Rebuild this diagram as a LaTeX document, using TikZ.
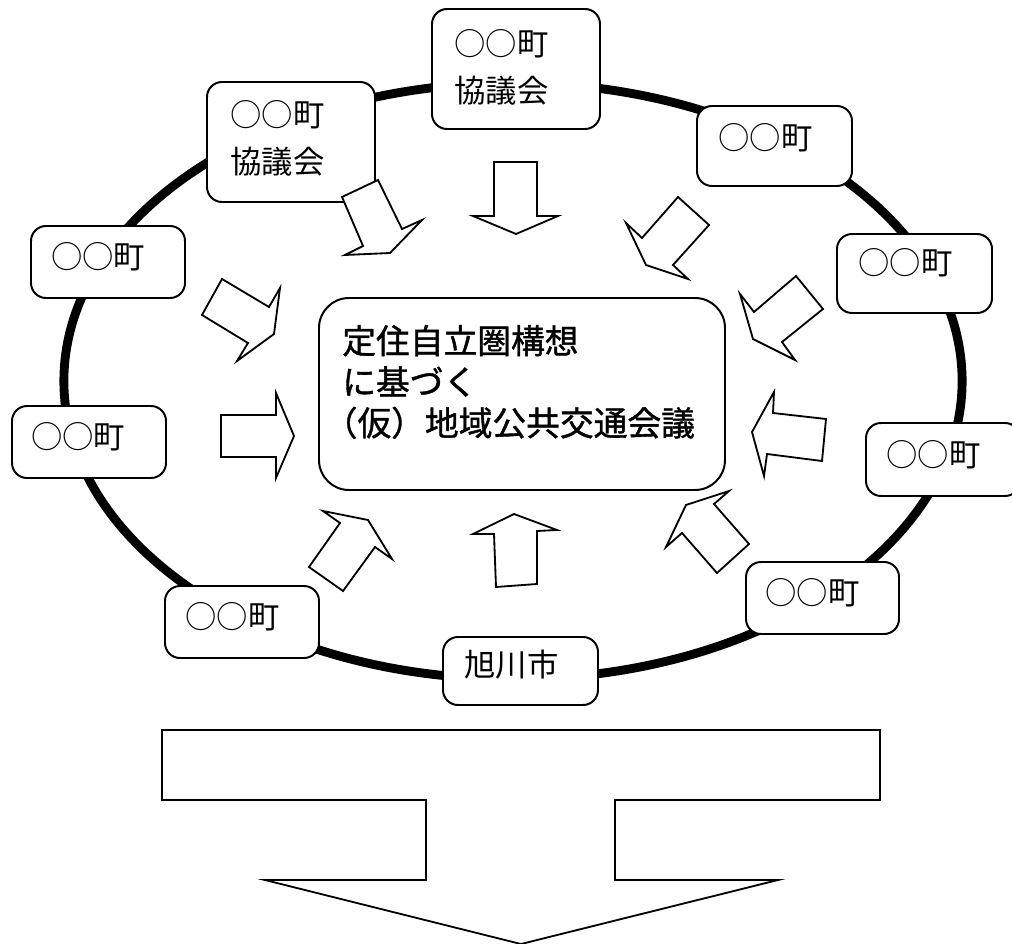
\documentclass[tikz,border=0pt]{standalone}
\usepackage{fontspec}
\usetikzlibrary{fit}
\newfontfamily\jp{Noto Sans CJK JP}
\newfontfamily\jpb{Noto Sans CJK JP}[FakeBold=1.2]
\begin{document}
\begin{tikzpicture}[x=0.025cm,y=-0.025cm,
  box/.style={draw,line width=1.4pt,fill=white,rounded corners=0.375cm,inner sep=0pt},
  bigbox/.style={draw,line width=1.4pt,fill=white,rounded corners=0.75cm,inner sep=0pt},
  boxtext/.style={inner sep=0pt,anchor=west,align=left,font=\jp\fontsize{22.3}{33.4}\selectfont},
  centertext/.style={inner sep=0pt,anchor=west,align=left,font=\jpb\fontsize{24}{29.2}\selectfont},
  barrow/.style={draw,line width=1.3pt,fill=white,line join=miter}]
\useasboundingbox (0,0) rectangle (1012,944);
% ring
\draw[line width=6.3pt] (513,381) ellipse [x radius=11.225cm, y radius=7.45cm];
% boxes
\node[box,fit={(432,9) (600,129)}] (b1) {};
\node[boxtext] (t1) at (454,67) {○○町\\協議会};
\node[box,fit={(207,82) (375,202)}] (b2) {};
\node[boxtext] (t2) at (230,138.5) {○○町\\協議会};
\node[box,fit={(697,106) (852,186)}] (b3) {};
\node[boxtext] (t3) at (718,138) {○○町};
\node[box,fit={(837,234) (992,313)}] (b4) {};
\node[boxtext] (t4) at (858,263) {○○町};
\node[box,fit={(31,226) (185,298)}] (b5) {};
\node[boxtext] (t5) at (51,257) {○○町};
\node[box,fit={(12,406) (166,478)}] (b6) {};
\node[boxtext] (t6) at (31,437) {○○町};
\node[box,fit={(866,423) (1020,496)}] (b7) {};
\node[boxtext] (t7) at (886,455) {○○町};
\node[box,fit={(746,562) (899,634)}] (b8) {};
\node[boxtext] (t8) at (765,593) {○○町};
\node[box,fit={(165,586) (319,658)}] (b9) {};
\node[boxtext] (t9) at (185,617) {○○町};
\node[box,fit={(443,637) (598,705)}] (b10) {};
\node[boxtext] (t10) at (464,665) {旭川市};
% centre
\node[bigbox,fit={(319,298) (725,490)}] (c) {};
\node[centertext] (ct) at (342,382) {定住自立圏構想\\に基づく\\\hspace*{-0.55em}（仮）地域公共交通会議};
% arrows
\draw[barrow] (342,197) -- (378,180) -- (402,229) -- (422,220) -- (390,253) -- (345,255) -- (363,246) -- cycle;
\draw[barrow] (494,162) -- (537,162) -- (537,216) -- (558,216) -- (516,234) -- (473,216) -- (494,216) -- cycle;
\draw[barrow] (678,197) -- (709,225) -- (673,265) -- (688,279) -- (646,265) -- (626,223) -- (642,238) -- cycle;
\draw[barrow] (796,276) -- (823,309) -- (782,342) -- (795,360) -- (753,339) -- (740,294) -- (754,312) -- cycle;
\draw[barrow] (222,279) -- (269,307) -- (280,288) -- (274,334) -- (237,361) -- (248,343) -- (202,315) -- cycle;
\draw[barrow] (221,415) -- (276,415) -- (276,393) -- (294,436) -- (276,478) -- (276,457) -- (221,457) -- cycle;
\draw[barrow] (774,392) -- (773,413) -- (826,419) -- (822,461) -- (767,454) -- (764,476) -- (752,432) -- cycle;
\draw[barrow] (323,511) -- (368,520) -- (392,559) -- (375,547) -- (343,591) -- (309,567) -- (340,523) -- cycle;
\draw[barrow] (514,514) -- (557,530) -- (537,531) -- (537,584) -- (496,587) -- (494,534) -- (473,534) -- cycle;
\draw[barrow] (729,491) -- (714,504) -- (749,544) -- (717,573) -- (682,533) -- (666,547) -- (686,505) -- cycle;
% big arrow
\draw[barrow] (162,730) -- (880,730) -- (880,800) -- (615,800) -- (615,880) -- (778,880) -- (521,944) -- (265,880) -- (426,880) -- (426,800) -- (162,800) -- cycle;
\end{tikzpicture}
\end{document}
